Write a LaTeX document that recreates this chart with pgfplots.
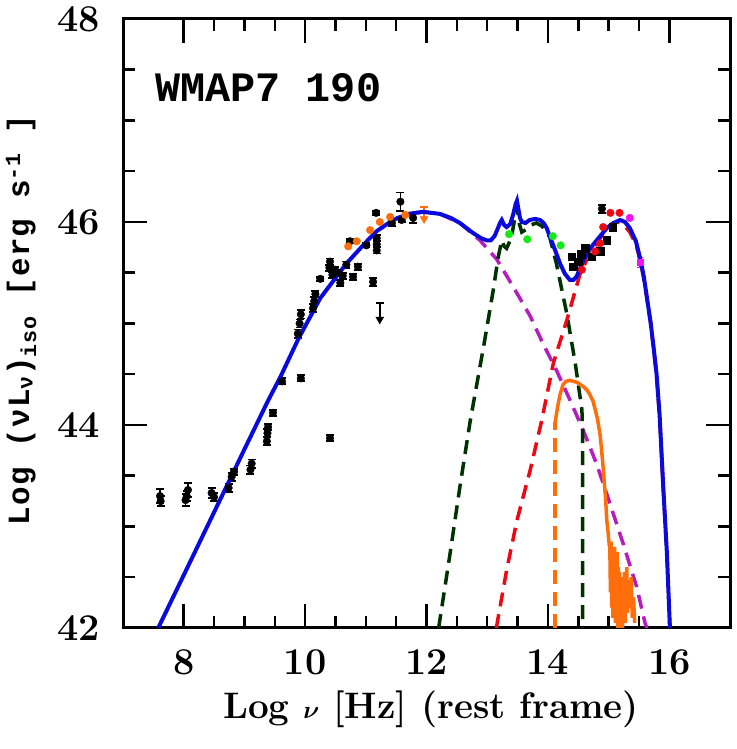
\documentclass[border=0pt]{standalone}
\usepackage{amsmath}
\usepackage{fontspec}
\usepackage{pgfplots}
\pgfplotsset{compat=1.18}
\newfontfamily\monob{Liberation Mono}
\definecolor{cblue}{RGB}{10,10,220}
\definecolor{cmag}{RGB}{180,30,190}
\definecolor{cdg}{RGB}{0,50,0}
\definecolor{cred}{RGB}{235,10,20}
\definecolor{corange}{RGB}{255,110,10}
\definecolor{cgreen}{RGB}{20,235,20}
\definecolor{cpink}{RGB}{240,20,240}
\newcommand{\xlab}{\fontsize{37}{37}\selectfont\bfseries\addfontfeature{LetterSpace=5} Log $\boldsymbol{\nu}$ [Hz] (rest frame)}
\newcommand{\ylab}{\monob\bfseries\fontsize{31}{31}\selectfont\addfontfeature{LetterSpace=4} Log (νL\textsubscript{ν})\textsubscript{iso} [erg s\textsuperscript{-1} ]}
\newcommand{\toplab}{\monob\bfseries\fontsize{42}{42}\selectfont WMAP7 190}
\pgfplotsset{dashcomp/.style={line width=3.5bp, dash pattern=on 14bp off 8bp}}
\begin{document}
\begin{tikzpicture}[x=1bp,y=1bp]
\begin{axis}[
  scale only axis, width=607bp, height=609bp,
  at={(123bp,121bp)}, anchor=south west,
  xmin=7, xmax=17, ymin=42, ymax=48,
  xtick={8,10,12,14,16}, ytick={42,44,46,48},
  minor x tick num=3, minor y tick num=3,
  tick align=inside, major tick length=24bp, minor tick length=12bp,
  every tick/.style={black, line width=2.5bp},
  axis line style={line width=3bp},
  /pgf/number format/assume math mode=true,
  tick label style={font=\fontsize{38}{38}\selectfont\bfseries, inner sep=0pt},
  xticklabel style={anchor=north, yshift=-21bp},
  yticklabel style={anchor=east, xshift=-23bp},
  clip=true,
]
% synchrotron (magenta dashed)
\addplot[cmag, dashcomp] coordinates {
(11.50,46.04) (11.94,46.10) (12.22,46.08) (12.55,45.99) (12.88,45.82) (13.16,45.63)
(13.43,45.36) (13.71,45.07) (13.92,44.80) (14.14,44.54) (14.36,44.25) (14.58,43.95)
(14.80,43.62) (15.02,43.23) (15.24,42.83) (15.46,42.41) (15.60,42.05) (15.63,42.00)};
% torus (dark green dashed)
\addplot[cdg, dashcomp] coordinates {
(12.20,42.00) (12.39,42.74) (12.55,43.39) (12.72,44.04) (12.94,44.77) (13.10,45.33)
(13.18,45.65) (13.24,45.82) (13.28,45.76) (13.32,45.74) (13.40,45.85) (13.45,46.02)
(13.49,46.15) (13.53,45.98) (13.57,45.90) (13.65,45.93) (13.72,45.97) (13.81,45.99)
(13.90,45.96) (13.98,45.90) (14.03,45.85) (14.14,45.59) (14.31,45.10) (14.45,44.61)
(14.56,44.15) (14.57,43.95) (14.57,42.00)};
% disk (red dashed)
\addplot[cred, dashcomp] coordinates {
(13.15,42.00) (13.32,42.57) (13.49,43.06) (13.71,43.56) (13.90,44.05) (14.09,44.61)
(14.31,45.03) (14.53,45.49) (14.70,45.70) (14.91,45.88) (15.05,45.98) (15.15,46.00)
(15.25,45.97) (15.35,45.90) (15.45,45.78) (15.52,45.62) (15.58,45.44) (15.63,45.25)
(15.69,45.01) (15.74,44.76) (15.79,44.49) (15.84,44.08) (15.90,43.38) (15.96,42.73) (16.01,42.00)};
% orange spectrum
\addplot[corange, dashcomp] coordinates {(14.12,42.00) (14.12,44.03)};
\addplot[corange, line width=3.5bp] coordinates {
(14.12,44.03) (14.16,44.18) (14.20,44.30) (14.25,44.40) (14.30,44.43) (14.36,44.44)
(14.42,44.43) (14.48,44.42) (14.53,44.40) (14.60,44.37) (14.65,44.34) (14.69,44.30)
(14.74,44.24) (14.78,44.15) (14.82,44.05) (14.86,43.90) (14.88,43.78) (14.91,43.58)
(14.93,43.42) (14.95,43.28) (14.97,43.06) (14.99,42.95) (15.01,42.82)
(15.02,42.80) (15.03,42.35) (15.04,42.85) (15.05,42.20) (15.06,42.75) (15.07,42.10)
(15.08,42.70) (15.09,42.25) (15.10,42.80) (15.11,42.05) (15.12,42.65) (15.13,42.15)
(15.14,42.75) (15.15,42.00) (15.16,42.60) (15.17,42.10) (15.18,42.55) (15.19,42.00)
(15.20,42.45) (15.21,42.05) (15.22,42.50) (15.23,42.00) (15.24,42.40) (15.25,42.10)
(15.26,42.55) (15.27,42.05) (15.28,42.35) (15.30,42.60) (15.31,42.15) (15.33,42.45)
(15.35,42.20) (15.37,42.50) (15.39,42.10) (15.41,42.30) (15.43,42.05)};
% black data points with error bars
\addplot[only marks, black, mark=*, mark size=3.8bp,
  error bars/.cd, y dir=both, y explicit,
  error bar style={line width=1.8bp},
  error mark options={rotate=90, mark size=4bp, line width=1.8bp}]
  table[x index=0, y index=1, y error index=2] {
7.61 43.30 0.07
7.62 43.25 0.05
8.03 43.26 0.06
8.05 43.30 0.05
8.07 43.36 0.07
8.46 43.33 0.05
8.50 43.29 0.04
8.74 43.38 0.04
8.79 43.49 0.04
8.83 43.54 0.03
9.10 43.56 0.04
9.12 43.62 0.04
9.37 43.84 0.04
9.38 43.92 0.04
9.39 43.98 0.03
9.47 44.12 0.03
9.62 44.43 0.03
9.93 44.46 0.03
9.88 44.90 0.04
9.91 45.00 0.04
9.93 45.09 0.04
10.13 45.15 0.04
10.15 45.22 0.04
10.17 45.29 0.03
10.25 45.44 0.02
10.40 45.55 0.03
10.41 45.61 0.03
10.45 45.48 0.03
10.49 45.53 0.03
10.55 45.50 0.03
10.58 45.40 0.03
10.62 45.47 0.03
10.68 45.58 0.03
10.74 45.81 0.02
10.79 45.46 0.03
10.87 45.56 0.03
10.41 43.87 0.03
11.01 45.77 0.02
11.18 45.84 0.03
11.18 45.78 0.03
11.18 45.72 0.03
11.12 45.41 0.04
11.17 46.09 0.02
11.43 45.99 0.03
11.57 46.20 0.09
11.59 46.02 0.02
11.78 46.04 0.05
14.89 46.13 0.04
};
\addplot[only marks, black, mark=square*, mark size=3.8bp] coordinates {
(14.39,45.66) (14.42,45.56) (14.50,45.61) (14.55,45.68) (14.61,45.74) (14.72,45.66)
(14.86,45.71) (14.97,45.82) (15.07,45.95)};
% black upper limit
\addplot[only marks, black, mark=triangle*, mark size=4.5bp, mark options={rotate=180},
  error bars/.cd, y dir=plus, y explicit, error bar style={line width=1.8bp},
  error mark options={rotate=90, mark size=4bp, line width=1.8bp}]
  table[x index=0, y index=1, y error index=2] {
11.23 45.04 0.16
};
% orange points
\addplot[only marks, corange, mark=*, mark size=3.8bp] coordinates {
(10.71,45.76) (10.85,45.81) (11.07,45.92) (11.23,46.00) (11.40,46.05) (11.65,46.07)};
\addplot[only marks, corange, mark=triangle*, mark size=4.5bp, mark options={rotate=180},
  error bars/.cd, y dir=plus, y explicit, error bar style={line width=1.8bp, corange},
  error mark options={rotate=90, mark size=4bp, line width=1.8bp, corange}]
  table[x index=0, y index=1, y error index=2] {
11.96 46.03 0.12
};
% green points
\addplot[only marks, cgreen, mark=*, mark size=3.8bp] coordinates {
(13.36,45.88) (13.66,45.83) (14.08,45.86) (14.21,45.77)};
% red points
\addplot[only marks, cred, mark=*, mark size=3.8bp] coordinates {
(14.56,45.53) (14.78,45.71) (14.86,45.79) (14.91,45.95) (15.03,46.09) (15.18,46.09)};
% magenta points
\addplot[only marks, cpink, mark=*, mark size=3.8bp] coordinates {(15.35,46.04)};
\addplot[only marks, cpink, mark=square*, mark size=3bp,
  error bars/.cd, y dir=both, y explicit, error bar style={line width=1.8bp, cpink}]
  table[x index=0, y index=1, y error index=2] {
15.52 45.60 0.05
};
% total model (blue)
\addplot[cblue, line width=4bp] coordinates {
(7.58,42.00) (8.00,42.52) (8.50,43.14) (9.00,43.76) (9.39,44.24) (9.59,44.47)
(9.89,44.85) (10.25,45.25) (10.68,45.59) (11.00,45.80) (11.18,45.91) (11.45,46.02)
(11.70,46.08) (11.94,46.10) (12.22,46.08) (12.40,46.04) (12.55,45.99) (12.77,45.89)
(12.90,45.84) (12.99,45.82) (13.06,45.82) (13.12,45.86) (13.17,45.93) (13.21,45.99)
(13.24,46.02) (13.28,45.97) (13.32,45.95) (13.38,45.98) (13.43,46.08) (13.47,46.18)
(13.49,46.21) (13.51,46.14) (13.54,46.04) (13.57,46.00) (13.63,45.99) (13.70,46.02)
(13.79,46.03) (13.87,46.02) (13.93,45.99) (13.98,45.94) (14.03,45.86) (14.12,45.72)
(14.20,45.59) (14.28,45.49) (14.36,45.43) (14.42,45.43) (14.47,45.46) (14.55,45.57)
(14.64,45.69) (14.75,45.78) (14.86,45.86) (14.97,45.94) (15.08,45.99) (15.19,46.02)
(15.27,46.00) (15.35,45.94) (15.45,45.81) (15.52,45.64) (15.58,45.46) (15.63,45.26)
(15.69,45.02) (15.74,44.77) (15.79,44.50) (15.84,44.10) (15.90,43.39) (15.96,42.74)
(16.01,42.00)};
\end{axis}
\node[anchor=base west, inner sep=0pt] at (155,647) {\toplab};
\node[anchor=base, inner sep=0pt] at (431,30) {\xlab};
\node[anchor=base, rotate=90, inner sep=0pt] at (29,429) {\ylab};
\path (0,0) rectangle (737,749);
\end{tikzpicture}
\end{document}
